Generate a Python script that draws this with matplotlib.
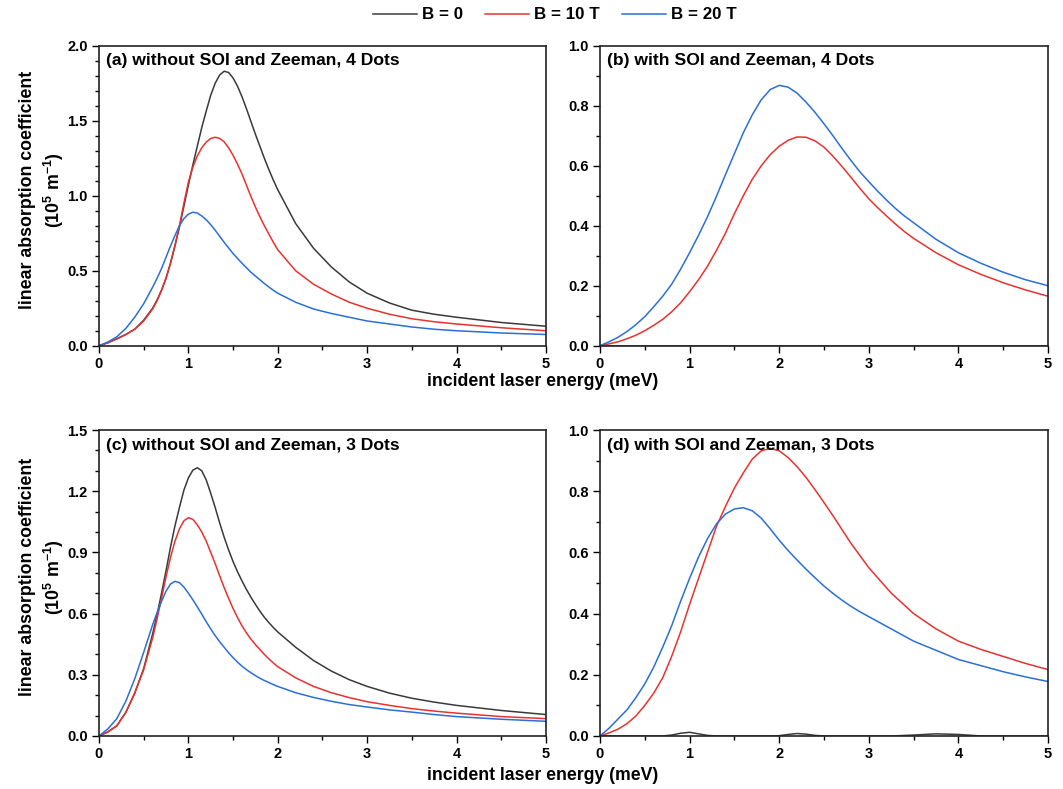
import matplotlib
matplotlib.use("Agg")
import matplotlib.pyplot as plt
from matplotlib.ticker import MultipleLocator, FormatStrFormatter

plt.rcParams['font.family'] = ['Liberation Sans', 'DejaVu Sans']
plt.rcParams['font.weight'] = 'bold'
plt.rcParams['mathtext.fontset'] = 'custom'
plt.rcParams['mathtext.rm'] = 'Liberation Sans:bold'
plt.rcParams['mathtext.bf'] = 'Liberation Sans:bold'
plt.rcParams['mathtext.default'] = 'bf'

# ---- data ----
labels = ['B = 0', 'B = 10 T', 'B = 20 T']
colors = ['#3a3a3a', '#e8322f', '#2a6fd8']

# (a) without SOI and Zeeman, 4 dots
x_a = [0, .1, .2, .3, .4, .5, .6, .65, .7, .75, .8, .85, .9, .95, 1.0, 1.05, 1.1, 1.15, 1.2, 1.25,
       1.3, 1.35, 1.4, 1.45, 1.5, 1.55, 1.6, 1.65, 1.7, 1.75, 1.8, 1.85, 1.9, 1.95, 2.0,
       2.2, 2.4, 2.6, 2.8, 3.0, 3.25, 3.5, 3.75, 4.0, 4.5, 5.0]
a_b0 = [0, .02, .047, .075, .11, .17, .25, .305, .37, .45, .55, .665, .79, .93, 1.07, 1.205, 1.33,
        1.455, 1.565, 1.67, 1.75, 1.805, 1.83, 1.822, 1.785, 1.73, 1.66, 1.58, 1.495, 1.41, 1.33,
        1.25, 1.175, 1.105, 1.04, .815, .65, .525, .425, .35, .285, .237, .21, .19, .155, .13]
a_b10 = [0, .02, .045, .075, .11, .165, .245, .30, .37, .45, .55, .67, .80, .95, 1.09, 1.19, 1.265,
         1.32, 1.358, 1.382, 1.39, 1.382, 1.36, 1.32, 1.27, 1.21, 1.145, 1.07, .995, .925, .86, .80,
         .745, .69, .64, .50, .41, .345, .29, .25, .21, .18, .16, .145, .12, .10]
a_b20 = [0, .025, .06, .115, .19, .28, .39, .45, .515, .59, .665, .735, .80, .848, .877, .89, .885,
         .865, .84, .807, .77, .73, .69, .652, .615, .582, .55, .52, .49, .465, .44, .415, .392, .37,
         .35, .29, .245, .215, .19, .165, .145, .125, .11, .10, .085, .075]

# (b) with SOI and Zeeman, 4 dots
x_b = [0, .1, .2, .3, .4, .5, .6, .7, .8, .9, 1.0, 1.1, 1.2, 1.3, 1.4, 1.5, 1.6, 1.7, 1.8, 1.9, 2.0,
       2.1, 2.2, 2.3, 2.4, 2.5, 2.6, 2.7, 2.8, 2.9, 3.0, 3.1, 3.2, 3.3, 3.4, 3.5,
       3.75, 4.0, 4.25, 4.5, 4.75, 5.0]
b_b0 = [0] * len(x_b)
b_b10 = [0, .006, .013, .023, .035, .05, .068, .088, .113, .143, .18, .22, .265, .318, .375, .44, .50,
         .555, .60, .637, .665, .685, .696, .695, .683, .662, .632, .598, .562, .525, .49, .46, .432,
         .405, .38, .358, .31, .27, .238, .21, .186, .165]
b_b20 = [0, .013, .028, .047, .07, .097, .13, .165, .205, .255, .31, .368, .43, .498, .57, .64, .71,
         .77, .82, .854, .868, .862, .842, .812, .778, .74, .70, .658, .618, .58, .547, .515, .485,
         .457, .432, .41, .355, .31, .275, .245, .22, .20]

# (c) without SOI and Zeeman, 3 dots
x_c = x_a
c_b0 = [0, .02, .05, .115, .21, .33, .50, .595, .70, .81, .925, 1.03, 1.12, 1.205, 1.265, 1.303,
        1.315, 1.30, 1.255, 1.19, 1.12, 1.045, .975, .912, .855, .805, .76, .718, .68, .645, .612,
        .582, .556, .532, .51, .435, .37, .318, .276, .243, .21, .185, .166, .15, .125, .105]
c_b10 = [0, .02, .05, .115, .21, .325, .48, .575, .675, .78, .875, .955, 1.015, 1.055, 1.07, 1.062,
         1.035, 1.0, .955, .90, .845, .785, .728, .675, .625, .58, .54, .505, .475, .448, .424, .40,
         .378, .358, .34, .285, .243, .212, .188, .168, .15, .134, .122, .112, .095, .085]
c_b20 = [0, .035, .085, .17, .28, .41, .545, .605, .66, .71, .745, .758, .752, .73, .70, .668, .633,
         .597, .56, .525, .492, .462, .435, .408, .384, .362, .342, .325, .31, .296, .283, .272,
         .262, .252, .243, .212, .189, .17, .154, .142, .128, .117, .105, .095, .082, .072]

# (d) with SOI and Zeeman, 3 dots
x_d = [0, .1, .2, .3, .4, .5, .6, .7, .8, .9, 1.0, 1.1, 1.2, 1.3, 1.4, 1.5, 1.6, 1.7, 1.8, 1.9, 2.0,
       2.1, 2.2, 2.3, 2.4, 2.5, 2.6, 2.7, 2.8, 2.9, 3.0, 3.25, 3.5, 3.75, 4.0, 4.25, 4.5, 4.75, 5.0]
d_b0 = [0, 0, 0, 0, 0, 0, 0, 0, .003, .009, .012, .007, .002, 0, 0, 0, 0, 0, 0, 0, .001,
        .005, .008, .006, .002, 0, 0, 0, 0, 0, 0, 0, .003, .007, .005, 0, 0, 0, 0]
d_b10 = [0, .01, .022, .04, .065, .10, .14, .19, .26, .34, .43, .515, .60, .685, .75, .81, .86, .905,
         .932, .94, .932, .91, .88, .845, .805, .763, .72, .675, .63, .59, .55, .467, .40, .35, .31,
         .283, .26, .237, .217]
d_b20 = [0, .025, .055, .085, .125, .17, .225, .29, .36, .44, .515, .585, .645, .693, .725, .742,
         .746, .736, .712, .677, .64, .606, .575, .545, .517, .49, .466, .444, .424, .406, .39, .35,
         .31, .28, .25, .23, .21, .193, .178]

titles = ['(a) without SOI and Zeeman, 4 Dots', '(b) with SOI and Zeeman, 4 Dots',
          '(c) without SOI and Zeeman, 3 Dots', '(d) with SOI and Zeeman, 3 Dots']
ylims = [2.0, 1.0, 1.5, 1.0]
ymajor = [0.5, 0.2, 0.3, 0.2]

panels = [(x_a, [a_b0, a_b10, a_b20]), (x_b, [b_b0, b_b10, b_b20]),
          (x_c, [c_b0, c_b10, c_b20]), (x_d, [d_b0, d_b10, d_b20])]

fig = plt.figure(figsize=(10.63, 7.89), dpi=100)
rects = [[0.0931, 0.5618, 0.4205, 0.3802], [0.5644, 0.5618, 0.4215, 0.3802],
         [0.0931, 0.0672, 0.4205, 0.3878], [0.5644, 0.0672, 0.4215, 0.3878]]

axes = []
for i, (xs, ys) in enumerate(panels):
    ax = fig.add_axes(rects[i])
    for y, c, lab in zip(ys, colors, labels):
        ax.plot(xs, y, color=c, lw=1.1, label=lab)
    ax.set_xlim(0, 5)
    ax.set_ylim(0, ylims[i])
    ax.xaxis.set_major_locator(MultipleLocator(1))
    ax.xaxis.set_minor_locator(MultipleLocator(0.5))
    ax.yaxis.set_major_locator(MultipleLocator(ymajor[i]))
    ax.yaxis.set_minor_locator(MultipleLocator(0.1))
    ax.xaxis.set_major_formatter(FormatStrFormatter('%d'))
    ax.yaxis.set_major_formatter(FormatStrFormatter('%.1f'))
    ax.tick_params(which='major', direction='out', length=5, width=1, labelsize=10.5, pad=3)
    ax.tick_params(which='minor', direction='out', length=3, width=1)
    for s in ax.spines.values():
        s.set_linewidth(1.2)
        s.set_color('#222222')
    ax.text(0.015, 0.975, titles[i], transform=ax.transAxes, ha='left', va='top',
            fontsize=12.6, fontweight='bold')
    if i % 2 == 0:
        ax.set_ylabel('linear absorption coefficient\n(10$^5$ m$^{-1}$)', fontsize=12.8,
                      fontweight='bold', linespacing=1.3)
        ax.yaxis.set_label_coords(-0.074, 0.52)
    axes.append(ax)

fig.text(0.51, 1 - 381 / 789, 'incident laser energy (meV)', ha='center', va='center',
         fontsize=12.7, fontweight='bold')
fig.text(0.51, 1 - 775 / 789, 'incident laser energy (meV)', ha='center', va='center',
         fontsize=12.7, fontweight='bold')

handles, labs = axes[0].get_legend_handles_labels()
fig.legend(handles, labs, ncol=3, loc='center', bbox_to_anchor=(0.522, 0.981), frameon=False,
           fontsize=12.2, handlelength=2.6, handletextpad=0.3, columnspacing=1.3)

fig.savefig('out.png', dpi=100)
